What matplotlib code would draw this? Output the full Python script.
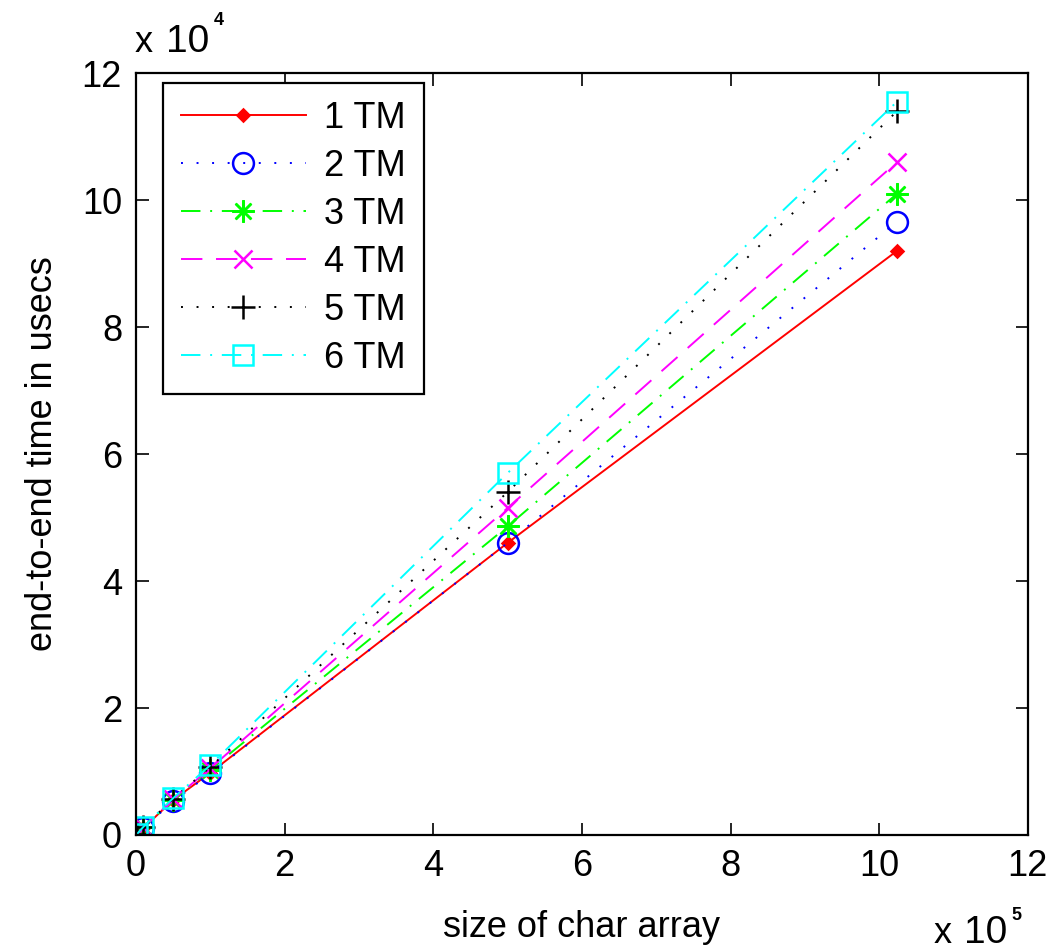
import matplotlib
matplotlib.use("Agg")
import matplotlib.pyplot as plt
import numpy as np

plt.rcParams['font.family'] = ['Liberation Sans', 'DejaVu Sans']

# data (x in units of 1e5, y in units of 1e4)
sizes = [0.01, 0.1, 0.5, 1.0, 5.0, 10.24]
tm1 = [0.01, 0.11, 0.55, 0.98, 4.60, 9.20]
tm2 = [0.01, 0.11, 0.53, 0.97, 4.60, 9.66]
tm3 = [0.01, 0.12, 0.55, 1.03, 4.86, 10.10]
tm4 = [0.01, 0.12, 0.56, 1.05, 5.15, 10.60]
tm5 = [0.01, 0.12, 0.57, 1.07, 5.40, 11.40]
tm6 = [0.01, 0.13, 0.58, 1.10, 5.70, 11.55]
labels = ['1 TM', '2 TM', '3 TM', '4 TM', '5 TM', '6 TM']
series = [tm1, tm2, tm3, tm4, tm5, tm6]
ticks = [0, 2, 4, 6, 8, 10, 12]

FS = 26
lw = 1.4
styles = [
    dict(color='#ff0000', linestyle='-', marker='D', markersize=6),
    dict(color='#0000ff', linestyle=(0, (1, 7)), marker='o', markersize=15, markerfacecolor='none'),
    dict(color='#00ff00', linestyle=(0, (10, 5, 1, 5)), marker=(8, 2, 0), markersize=16),
    dict(color='#ff00ff', linestyle=(0, (11, 7)), marker='x', markersize=13),
    dict(color='#000000', linestyle=(0, (1, 7)), marker='+', markersize=17),
    dict(color='#00ffff', linestyle=(0, (10, 5, 1, 5)), marker='s', markersize=15, markerfacecolor='none'),
]

fig = plt.figure(figsize=(10.51, 9.52), dpi=100)
ax = fig.add_axes([0.1294, 0.1229, 0.8486, 0.8004])

for y, lab, st in zip(series, labels, styles):
    ax.plot(sizes, y, label=lab, linewidth=lw, markeredgewidth=1.8, **st)

ax.set_xlim(0, 12)
ax.set_ylim(0, 12)
ax.set_xticks(ticks)
ax.set_yticks(ticks)
ax.tick_params(direction='in', length=9, width=1.2, labelsize=FS, top=True, right=True, pad=10)
for s in ax.spines.values():
    s.set_linewidth(1.6)

ax.set_xlabel('size of char array', fontsize=FS, labelpad=19)
ax.set_ylabel('end-to-end time in usecs', fontsize=FS, labelpad=16)

# exponent labels (MATLAB style)
fig.text(135 / 1051, 1 - 52 / 952, 'x', fontsize=FS, ha='left', va='baseline')
fig.text(166 / 1051, 1 - 52 / 952, '10', fontsize=FS + 2, ha='left', va='baseline')
fig.text(214 / 1051, 1 - 25 / 952, '4', fontsize=13, ha='left', va='baseline', fontweight='bold')
fig.text(934 / 1051, 1 - 943 / 952, 'x', fontsize=FS, ha='left', va='baseline')
fig.text(964 / 1051, 1 - 943 / 952, '10', fontsize=FS + 2, ha='left', va='baseline')
fig.text(1011 / 1051, 1 - 920 / 952, '5', fontsize=13, ha='left', va='baseline', fontweight='bold')

leg = ax.legend(loc='upper left', fontsize=FS, frameon=True, fancybox=False,
                edgecolor='black', handlelength=3.45, handletextpad=0.5,
                borderpad=0.5, labelspacing=0.36, borderaxespad=0,
                bbox_to_anchor=(0.0303, 0.9869), framealpha=1)
leg.get_frame().set_linewidth(1.6)

fig.savefig('out.png', dpi=100)
